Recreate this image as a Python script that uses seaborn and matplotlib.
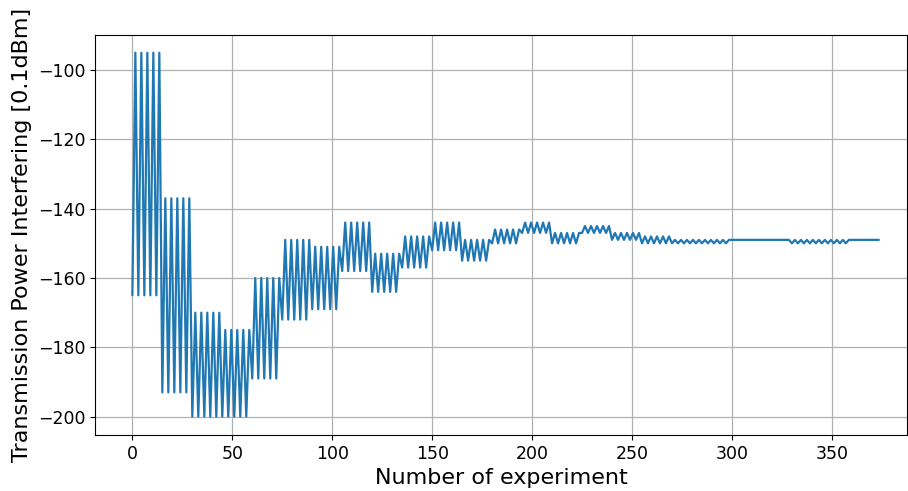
import matplotlib
matplotlib.use("Agg")
import matplotlib.pyplot as plt
import seaborn as sns
import numpy as np
import pandas as pd

sns.set_style("ticks")
plt.rcParams['font.family'] = ['DejaVu Sans']
plt.rcParams['text.color'] = 'black'
plt.rcParams['axes.labelcolor'] = 'black'
plt.rcParams['xtick.color'] = 'black'
plt.rcParams['ytick.color'] = 'black'

# one row per block of the experiment: low, high alternating (5 periods each)
power = [
    -165, -95, -165, -95, -165, -95, -165, -95, -165, -95,
    -193, -137, -193, -137, -193, -137, -193, -137, -193, -137,
    -200, -170, -200, -170, -200, -170, -200, -170, -200, -170,
    -200, -175, -200, -175, -200, -175, -200, -175, -200, -175,
    -189, -160, -189, -160, -189, -160, -189, -160, -189, -160,
    -172, -149, -172, -149, -172, -149, -172, -149, -172, -149,
    -169, -151, -169, -151, -169, -151, -169, -151, -169, -151,
    -158, -144, -158, -144, -158, -144, -158, -144, -158, -144,
    -164, -153, -164, -153, -164, -153, -164, -153, -164, -153,
    -157, -148, -157, -148, -157, -148, -157, -148, -157, -148,
    -152, -144, -152, -144, -152, -144, -152, -144, -152, -144,
    -155, -149, -155, -149, -155, -149, -155, -149, -155, -149,
    -150, -146, -150, -146, -150, -146, -150, -146, -150, -146,
    -147, -144, -147, -144, -147, -144, -147, -144, -147, -144,
    -150, -147, -150, -147, -150, -147, -150, -147, -150, -147,
    -147, -145, -147, -145, -147, -145, -147, -145, -147, -145,
    -149, -147, -149, -147, -149, -147, -149, -147, -149, -147,
    -150, -148, -150, -148, -150, -148, -150, -148, -150, -148,
    -150, -149, -150, -149, -150, -149, -150, -149, -150, -149,
    -150, -149, -150, -149, -150, -149, -150, -149, -150, -149,
    -149, -149, -149, -149, -149, -149, -149, -149, -149, -149,
    -149, -149, -149, -149, -149, -149, -149, -149, -149, -149,
    -150, -149, -150, -149, -150, -149, -150, -149, -150, -149,
    -150, -149, -150, -149, -150, -149, -150, -149, -150, -149,
    -149, -149, -149, -149, -149, -149, -149, -149, -149, -149,
]
step = 1.5  # spacing between samples on the experiment axis

df = pd.DataFrame({"exp": np.arange(len(power)) * step, "power": power})

fig = plt.figure(figsize=(9.08, 4.91), dpi=100)
ax = fig.add_axes([0.1046, 0.114, 0.8943, 0.8147])

sns.lineplot(ax=ax, data=df, x="exp", y="power", estimator=None,
             color="#1f77b4", linewidth=1.6)

ax.set_xlim(-18.7, 387.6)
ax.set_ylim(-205.3, -89.9)
ax.set_xticks([0, 50, 100, 150, 200, 250, 300, 350])
ax.set_yticks([-200, -180, -160, -140, -120, -100])
ax.grid(True, color="#b0b0b0", linewidth=0.9)
ax.tick_params(labelsize=12.5, color="black")
for s in ax.spines.values():
    s.set_visible(True)
    s.set_color("black")

ax.set_xlabel("Number of experiment", fontsize=16)
ax.set_ylabel("Transmission Power Interfering [0.1dBm]", fontsize=16)

fig.savefig("out.png", dpi=100)
